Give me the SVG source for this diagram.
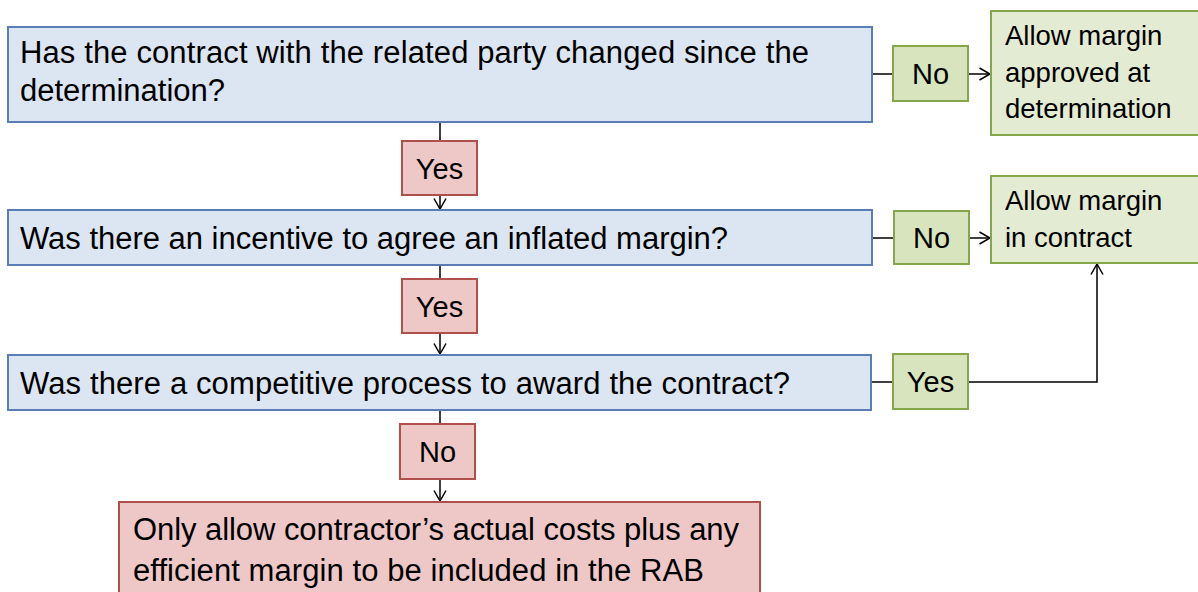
<svg xmlns="http://www.w3.org/2000/svg" width="1198" height="592" viewBox="0 0 1198 592">
<style>
.q{fill:#DCE6F2;stroke:#5A7EB4;stroke-width:2}
.r{fill:#EEC8C7;stroke:#B0504D;stroke-width:2}
.g{fill:#D7E4BD;stroke:#86A64C;stroke-width:2}
.res{fill:#E3EBD3;stroke:#86A64C;stroke-width:2}
text{font-family:"Liberation Sans",Arial,sans-serif;fill:#000}
.t{font-size:31px}
.s{font-size:27.5px}
.l{font-size:29px;text-anchor:middle}
.c{fill:none;stroke:#000;stroke-width:1.5}
</style>
<defs>
<marker id="a" markerUnits="userSpaceOnUse" markerWidth="16" markerHeight="16" refX="12" refY="8" orient="auto" viewBox="0 0 16 16">
<path d="M1.5 2 L12 8 L1.5 14" fill="none" stroke="#000" stroke-width="1.5"/>
</marker>
</defs>
<g id="connectors">
<line class="c" x1="872" y1="74" x2="893" y2="74"/>
<line class="c" x1="968" y1="74" x2="990" y2="74" marker-end="url(#a)"/>
<line class="c" x1="440" y1="122" x2="440" y2="141"/>
<line class="c" x1="440" y1="195" x2="440" y2="209" marker-end="url(#a)"/>
<line class="c" x1="872" y1="238" x2="894" y2="238"/>
<line class="c" x1="969" y1="238" x2="990" y2="238" marker-end="url(#a)"/>
<line class="c" x1="440" y1="265" x2="440" y2="279"/>
<line class="c" x1="440" y1="333" x2="440" y2="354" marker-end="url(#a)"/>
<line class="c" x1="871" y1="382" x2="893" y2="382"/>
<polyline class="c" points="968,382 1097,382 1097,264" marker-end="url(#a)"/>
<line class="c" x1="440" y1="410" x2="440" y2="424"/>
<line class="c" x1="440" y1="479" x2="440" y2="501" marker-end="url(#a)"/>
</g>
<g id="q1">
<rect class="q" x="8" y="27" width="864" height="95"/>
<text class="t" x="20" y="63" textLength="789">Has the contract with the related party changed since the</text>
<text class="t" x="20" y="101">determination?</text>
</g>
<g id="no1">
<rect class="g" x="893" y="46" width="75" height="55"/>
<text class="l" x="930.5" y="84">No</text>
</g>
<g id="res1">
<rect class="res" x="991" y="11" width="212" height="124"/>
<text class="s" x="1005" y="45">Allow margin</text>
<text class="s" x="1005" y="82">approved at</text>
<text class="s" x="1005" y="118">determination</text>
</g>
<g id="yes1">
<rect class="r" x="402" y="141" width="75" height="54"/>
<text class="l" x="439.5" y="179">Yes</text>
</g>
<g id="q2">
<rect class="q" x="8" y="210" width="864" height="55"/>
<text class="t" x="20" y="249" textLength="708">Was there an incentive to agree an inflated margin?</text>
</g>
<g id="no2">
<rect class="g" x="894" y="211" width="75" height="53"/>
<text class="l" x="931.5" y="248">No</text>
</g>
<g id="res2">
<rect class="res" x="991" y="176" width="212" height="87"/>
<text class="s" x="1005" y="210">Allow margin</text>
<text class="s" x="1005" y="247">in contract</text>
</g>
<g id="yes2">
<rect class="r" x="402" y="279" width="75" height="54"/>
<text class="l" x="439.5" y="317">Yes</text>
</g>
<g id="q3">
<rect class="q" x="8" y="355" width="863" height="55"/>
<text class="t" x="20" y="394" textLength="770">Was there a competitive process to award the contract?</text>
</g>
<g id="yes3">
<rect class="g" x="893" y="354" width="75" height="55"/>
<text class="l" x="930.5" y="392">Yes</text>
</g>
<g id="no3">
<rect class="r" x="400" y="424" width="75" height="55"/>
<text class="l" x="437.5" y="462">No</text>
</g>
<g id="result">
<rect class="r" x="119" y="502" width="641" height="100"/>
<text class="t" x="133" y="540" textLength="606">Only allow contractor’s actual costs plus any</text>
<text class="t" x="133" y="581" textLength="571">efficient margin to be included in the RAB</text>
</g>
</svg>
